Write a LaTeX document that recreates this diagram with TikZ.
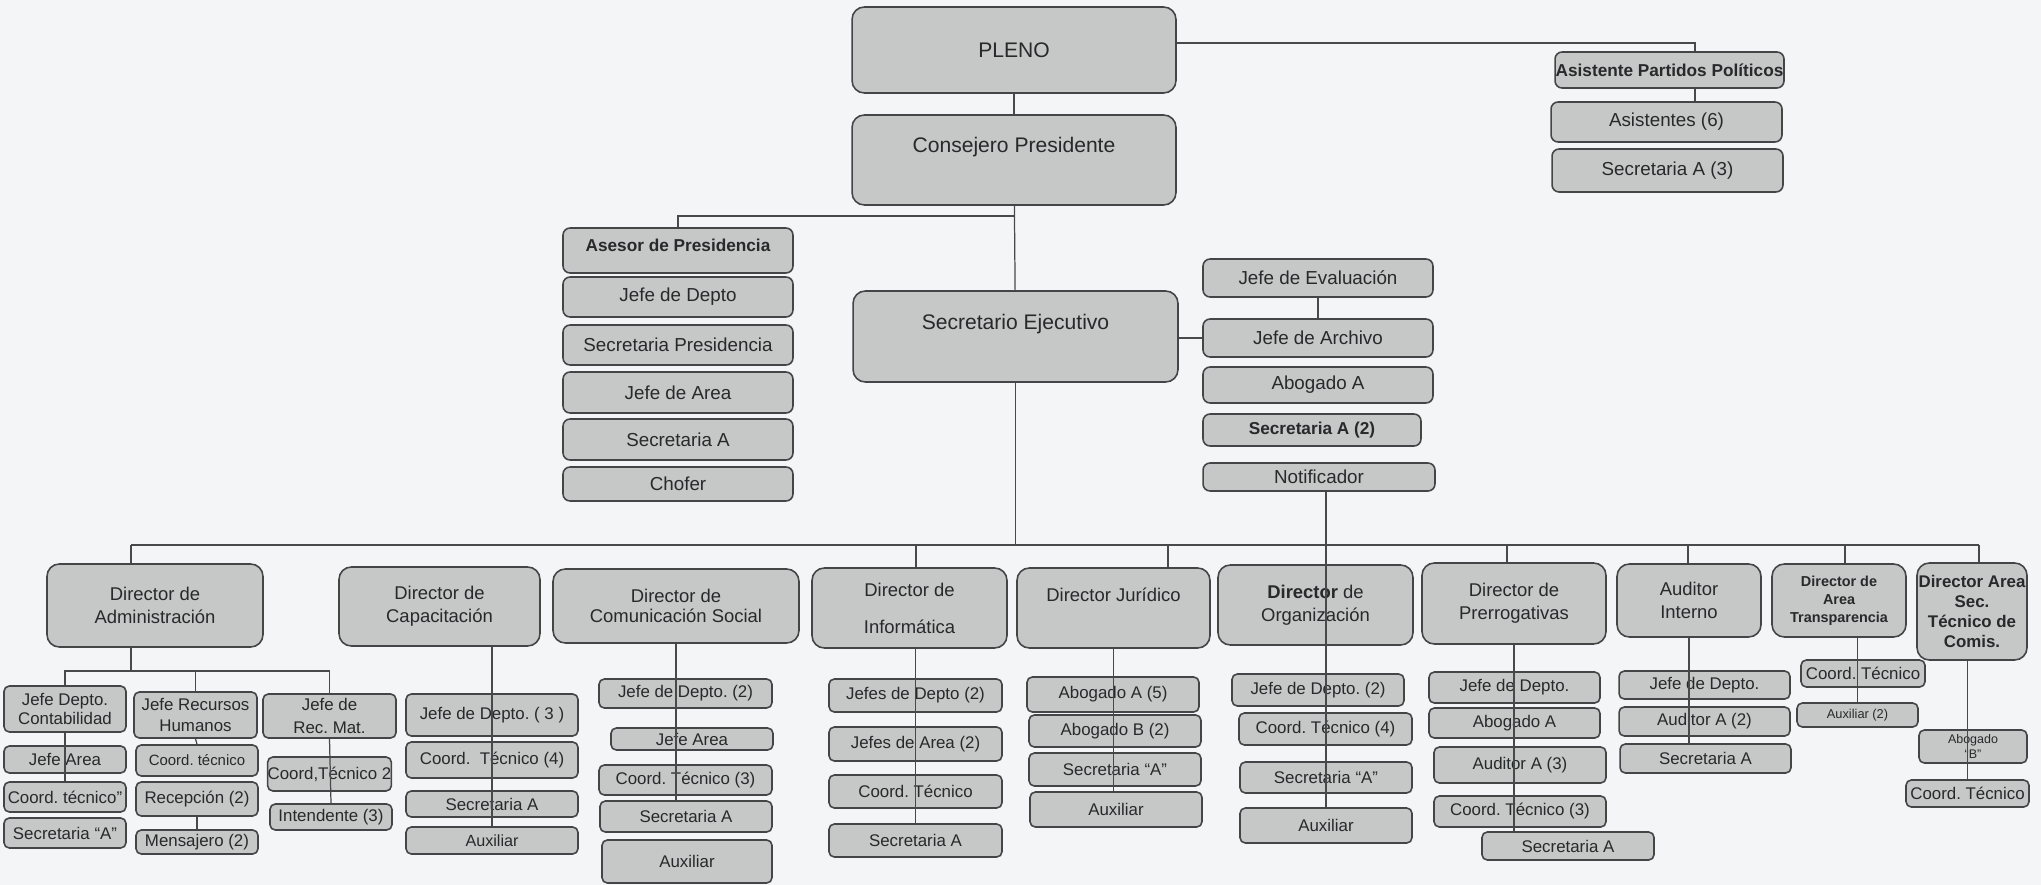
\documentclass[tikz,border=0pt]{standalone}
\usepackage{fontspec}
\setmainfont{Liberation Sans}
\usepackage{tikz}
\frenchspacing

\definecolor{boxfill}{RGB}{198,199,199}
\definecolor{boxline}{RGB}{66,70,70}
\definecolor{linkcol}{RGB}{70,74,74}
\definecolor{paper}{RGB}{243,245,247}
\definecolor{ink}{RGB}{38,42,42}

\tikzset{
  box/.style={draw=boxline, fill=boxfill, line width=0.9pt, rounded corners=4pt,
    inner sep=1pt, align=center, text=ink},
  sz/.style 2 args={minimum width=#1cm, minimum height=#2cm},
  topbox/.style={box, rounded corners=7pt, font=\fontsize{12}{14}\selectfont},
  side/.style={box, font=\fontsize{10.7}{13}\selectfont},
  sidebold/.style={box, font=\fontsize{9.8}{12}\selectfont\bfseries},
  dir/.style={box, rounded corners=7pt, font=\fontsize{10.5}{13}\selectfont},
  sub/.style={box, rounded corners=3pt, font=\fontsize{9.6}{11.5}\selectfont},
  link/.style={draw=linkcol, line width=0.7pt}
}

\begin{document}
\begin{tikzpicture}[x=0.02cm, y=-0.02cm]

        \useasboundingbox (0,0) rectangle (2041,885);
        \fill[paper] (0,0) rectangle (2041,885);

        % Pleno and presidency
        \node[topbox, sz={6.48}{1.72}] (pleno) at (1014,50) {PLENO};
        \node[topbox, sz={6.48}{1.80}, text depth=0.6cm] (cons) at (1014,160) {Consejero Presidente};
        \node[topbox, sz={6.50}{1.82}, text depth=0.58cm] (secej) at (1015.5,336.5) {Secretario Ejecutivo};

        % Asistente Partidos Politicos
        \node[sidebold, sz={4.58}{0.72}, inner sep=0pt] (asis) at (1669.5,70) {Asistente Partidos Políticos};
        \node[side, sz={4.62}{0.80}] (asisA) at (1666.5,122) {Asistentes (6)};
        \node[side, sz={4.62}{0.86}] (asisS) at (1667.5,170.5) {Secretaria A (3)};

        % Asesor de Presidencia column
        \node[sidebold, sz={4.60}{0.90}, text depth=0.2cm] (ases) at (678,250.5) {Asesor de Presidencia};
        \node[side, sz={4.60}{0.80}] (pJD) at (678,297) {Jefe de Depto};
        \node[side, sz={4.60}{0.80}] (pSP) at (678,345) {Secretaria Presidencia};
        \node[side, sz={4.60}{0.82}] (pJA) at (678,392.5) {Jefe de Area};
        \node[side, sz={4.60}{0.82}] (pSA) at (678,439.5) {Secretaria A};
        \node[side, sz={4.60}{0.68}] (pCh) at (678,484) {Chofer};

        % Secretario Ejecutivo column
        \node[side, sz={4.60}{0.76}] (sEv) at (1318,278) {Jefe de Evaluación};
        \node[side, sz={4.60}{0.76}] (sAr) at (1318,338) {Jefe de Archivo};
        \node[side, sz={4.60}{0.72}] (sAb) at (1318,385) {Abogado A};
        \node[sidebold, sz={4.36}{0.64}] (sSe) at (1312,430) {Secretaria A (2)};
        \node[side, sz={4.64}{0.56}] (sNo) at (1319,477) {Notificador};

        % Directores
        \node[dir, sz={4.32}{1.66}] (dAdm) at (155,605.5) {Director de\\Administración};
        \node[dir, sz={4.02}{1.58}] (dCap) at (439.5,606.5) {Director de\\Capacitación};
        \node[dir, sz={4.92}{1.48}] (dCom) at (676,606) {Director de\\[-2pt]Comunicación Social};
        \node[dir, sz={3.90}{1.60}] (dInf) at (909.5,608) {Director de\\[8pt]Informática};
        \node[dir, sz={3.86}{1.60}, text depth=0.52cm] (dJur) at (1113.5,608) {Director Jurídico};
        \node[dir, sz={3.90}{1.60}] (dOrg) at (1315.5,605) {\textbf{Director} de\\Organización};
        \node[dir, sz={3.68}{1.62}] (dPre) at (1514,603.5) {Director de\\Prerrogativas};
        \node[dir, sz={2.88}{1.46}] (dAud) at (1689,600.5) {Auditor\\Interno};
        \node[dir, sz={2.68}{1.46}, font=\fontsize{8.2}{10.2}\selectfont\bfseries] (dTra) at (1839,600.5) {Director de\\Area\\Transparencia};
        \node[dir, sz={2.20}{1.94}, inner sep=0pt, font=\fontsize{9.6}{11.4}\selectfont\bfseries] (dSec) at (1972,611.5) {Director Area\\Sec.\\Técnico de\\Comis.};

        % Administracion
        \node[sub, sz={2.44}{0.92}, font=\fontsize{9.6}{10.8}\selectfont] (aCon) at (65,709) {Jefe Depto.\\Contabilidad};
        \node[sub, sz={2.46}{0.92}, font=\fontsize{9.6}{12}\selectfont] (aRH) at (195.5,715) {Jefe Recursos\\Humanos};
        \node[sub, sz={2.66}{0.88}, font=\fontsize{9.6}{13.6}\selectfont] (aRM) at (329.5,716) {Jefe de\\Rec. Mat.};
        \node[sub, sz={2.44}{0.54}] (aJA) at (65,759.5) {Jefe Area};
        \node[sub, sz={2.44}{0.60}, inner sep=0pt] (aCT) at (65,797) {Coord. técnico''};
        \node[sub, sz={2.44}{0.60}] (aSA) at (65,833) {Secretaria ``A''};
        \node[sub, sz={2.44}{0.62}, font=\fontsize{8.5}{10}\selectfont] (aRCT) at (197,760.5) {Coord. técnico};
        \node[sub, sz={2.44}{0.68}] (aRec) at (197,799) {Recepción (2)};
        \node[sub, sz={2.44}{0.48}] (aMen) at (197,842) {Mensajero (2)};
        \node[sub, sz={2.46}{0.68}, inner sep=0pt] (aRMC) at (329.5,774) {Coord,Técnico 2};
        \node[sub, sz={2.44}{0.52}] (aInt) at (331,817) {Intendente (3)};

        % Capacitacion
        \node[sub, sz={3.44}{0.84}] (cJD) at (492,715) {Jefe de Depto. ( 3 )};
        \node[sub, sz={3.44}{0.72}] (cCT) at (492,760) {Coord.\ \ Técnico (4)};
        \node[sub, sz={3.44}{0.52}] (cSA) at (492,804) {Secretaria A};
        \node[sub, sz={3.44}{0.54}, font=\fontsize{9.2}{11}\selectfont] (cAux) at (492,840.5) {Auxiliar};

        % Comunicacion Social
        \node[sub, sz={3.46}{0.58}] (mJD) at (685.5,693.5) {Jefe de Depto. (2)};
        \node[sub, sz={3.24}{0.44}] (mJA) at (692,739) {Jefe Area};
        \node[sub, sz={3.46}{0.60}] (mCT) at (685.5,780) {Coord. Técnico (3)};
        \node[sub, sz={3.44}{0.62}] (mSA) at (686,816.5) {Secretaria A};
        \node[sub, sz={3.40}{0.86}] (mAux) at (687,861.5) {Auxiliar};

        % Informatica
        \node[sub, sz={3.46}{0.66}] (iJD) at (915.5,695.5) {Jefes de Depto (2)};
        \node[sub, sz={3.46}{0.68}] (iJA) at (915.5,744) {Jefes de Area (2)};
        \node[sub, sz={3.46}{0.66}] (iCT) at (915.5,791.5) {Coord. Técnico};
        \node[sub, sz={3.46}{0.66}] (iSA) at (915.5,840.5) {Secretaria A};

        % Juridico
        \node[sub, sz={3.44}{0.70}] (jA5) at (1113,694.5) {Abogado A (5)};
        \node[sub, sz={3.44}{0.64}] (jB2) at (1115,731) {Abogado B (2)};
        \node[sub, sz={3.44}{0.66}] (jSA) at (1115,769.5) {Secretaria ``A''};
        \node[sub, sz={3.44}{0.70}] (jAux) at (1116,809.5) {Auxiliar};

        % Organizacion
        \node[sub, sz={3.44}{0.64}] (oJD) at (1318,690) {Jefe de Depto. (2)};
        \node[sub, sz={3.46}{0.64}] (oCT) at (1325.5,729) {Coord. Técnico (4)};
        \node[sub, sz={3.44}{0.62}] (oSA) at (1326,777.5) {Secretaria ``A''};
        \node[sub, sz={3.44}{0.70}] (oAux) at (1326,825.5) {Auxiliar};

        % Prerrogativas
        \node[sub, sz={3.42}{0.62}] (eJD) at (1514.5,687.5) {Jefe de Depto.};
        \node[sub, sz={3.42}{0.60}] (eAb) at (1514.5,723) {Abogado A};
        \node[sub, sz={3.44}{0.72}] (eAu) at (1520,765) {Auditor A (3)};
        \node[sub, sz={3.44}{0.62}] (eCT) at (1520,811.5) {Coord. Técnico (3)};
        \node[sub, sz={3.44}{0.56}] (eSA) at (1568,846) {Secretaria A};

        % Auditor Interno
        \node[sub, sz={3.42}{0.56}] (uJD) at (1704.5,685) {Jefe de Depto.};
        \node[sub, sz={3.42}{0.58}] (uAu) at (1704.5,721.5) {Auditor A (2)};
        \node[sub, sz={3.42}{0.58}] (uSA) at (1705.5,758.5) {Secretaria A};

        % Transparencia
        \node[sub, sz={2.48}{0.54}, inner sep=0pt] (tCT) at (1863,673.5) {Coord. Técnico};
        \node[sub, sz={2.42}{0.48}, font=\fontsize{7.3}{9}\selectfont] (tAux) at (1857.5,715) {Auxiliar (2)};

        % Secretario Tecnico de Comisiones
        \node[sub, sz={2.16}{0.66}, font=\fontsize{7.1}{9}\selectfont] (kAb) at (1973,746.5) {Abogado\\``B''};
        \node[sub, sz={2.46}{0.54}, inner sep=0pt] (kCT) at (1967.5,793.5) {Coord. Técnico};

        % Lines at the top
        \draw[link] ([yshift=0.14cm]pleno.east) -| ([xshift=0.51cm]asis.north);
        \draw[link] ([xshift=0.51cm]asis.south) -- ([xshift=0.51cm]asis.south |- asisA.north);
        \draw[link] (pleno) -- (cons);
        \draw[link] (cons) -- (secej);
        \coordinate (presJ) at (1014,216);
        \draw[link] (ases.north) |- (presJ);
        \draw[link] (sAr.west) -- (sAr.west -| secej.east);
        \draw[link] (sEv) -- (sAr);

        % Bus to the directors
        \coordinate (busL) at (131,545);
        \coordinate (busR) at (1979,545);
        \draw[link] (busL) -- (busR);
        \draw[link] (secej.south) -- (secej.south |- busL);
        \foreach \d/\x in {dAdm/131, dInf/916, dJur/1168, dPre/1507, dAud/1688, dTra/1845, dSec/1979}{
          \coordinate (drop) at (\x,545);
          \draw[link] (drop) -- (drop |- \d.north);
        }
        \draw[link] (sNo.south -| oAux.north) -- (oAux.north);

        % Lines under the directors
        \coordinate (admJ) at (131,671);
        \draw[link] (dAdm.south -| admJ) -- (admJ);
        \draw[link] (aCon.north) |- (admJ) -| (aRM.north);
        \draw[link] (aRH.north) -- (aRH.north |- admJ);
        \draw[link] (aCon.south) -- (aCT.north);
        \draw[link] (aRH.south) -- (aRCT.north);
        \draw[link] (aRec.south) -- (aMen.north);
        \draw[link] (aRM.south) -- (aInt.north);
        \draw[link] (dCap.south -| cJD.north) -- (cAux.north);
        \draw[link] (dCom.south) -- (dCom.south |- mSA.north);
        \draw[link] (dInf.south -| iJD.north) -- (iSA.north);
        \draw[link] (dJur.south) -- (dJur.south |- jAux.north);
        \draw[link] (dPre.south) -- (dPre.south |- eSA.north);
        \draw[link] (dAud.south) -- (dAud.south |- uSA.north);
        \draw[link] (dTra.south -| tAux.north) -- (tAux.north);
        \draw[link] (dSec.south -| kCT.north) -- (kCT.north);

\end{tikzpicture}
\end{document}
